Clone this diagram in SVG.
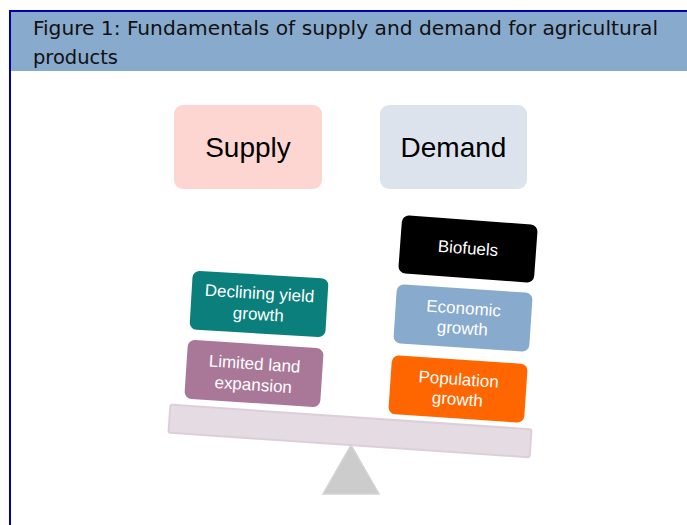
<svg xmlns="http://www.w3.org/2000/svg" width="687" height="525" viewBox="0 0 687 525">
  <style>
    .title { font-family: "DejaVu Sans Condensed", "DejaVu Sans", Verdana, sans-serif; font-size: 20px; fill: #111111; }
    .head { font-family: "Liberation Sans", Arial, sans-serif; font-size: 28px; fill: #000000; text-anchor: middle; }
    .lbl { font-family: "Liberation Sans", Arial, sans-serif; font-size: 17px; fill: #ffffff; text-anchor: middle; }
    .card { stroke: none; }
  </style>

  <!-- page frame and caption band -->
  <rect x="0" y="0" width="687" height="525" fill="#ffffff"/>
  <rect x="11" y="12" width="676" height="59" fill="#88aacd"/>
  <line x1="9" y1="11" x2="687" y2="11" stroke="#0000a8" stroke-width="2"/>
  <line x1="10" y1="10" x2="10" y2="525" stroke="#0000a8" stroke-width="2"/>
  <text class="title" x="33" y="35" textLength="625" lengthAdjust="spacingAndGlyphs">Figure 1: Fundamentals of supply and demand for agricultural</text>
  <text class="title" x="33" y="64" textLength="85" lengthAdjust="spacingAndGlyphs">products</text>

  <!-- column headings -->
  <g id="supply">
    <rect x="174" y="105" width="148" height="84" rx="9" fill="#fdd6d1"/>
    <text class="head" x="248" y="157">Supply</text>
  </g>
  <g id="demand">
    <rect x="380" y="105" width="147" height="84" rx="9" fill="#dde3ed"/>
    <text class="head" x="453.5" y="157">Demand</text>
  </g>

  <!-- seesaw: fulcrum and tilted beam -->
  <g id="fulcrum">
    <polygon points="351,445 323,494 379,494" fill="#cccccc" stroke="#d4d4d4" stroke-width="1.5"/>
  </g>
  <g id="beam" transform="translate(350,431) rotate(3.9)">
    <rect x="-181" y="-14" width="362" height="28" rx="2" fill="#e5dbe3" stroke="#dccfda" stroke-width="2"/>
  </g>

  <!-- supply factors -->
  <g id="declining-yield" transform="translate(259,304) rotate(3.4)">
    <rect class="card" x="-68" y="-29.5" width="136" height="59" rx="7" fill="#0b7f7b"/>
    <text class="lbl" x="0" y="-5">Declining yield</text>
    <text class="lbl" x="0" y="16">growth</text>
  </g>
  <g id="limited-land" transform="translate(254,373.5) rotate(3.8)">
    <rect class="card" x="-68" y="-29.5" width="136" height="59" rx="7" fill="#a97898"/>
    <text class="lbl" x="0" y="-4">Limited land</text>
    <text class="lbl" x="0" y="17">expansion</text>
  </g>

  <!-- demand factors -->
  <g id="biofuels" transform="translate(468,249) rotate(4.2)">
    <rect class="card" x="-68" y="-29" width="136" height="58" rx="7" fill="#000000"/>
    <text class="lbl" x="0" y="5">Biofuels</text>
  </g>
  <g id="economic-growth" transform="translate(463,318) rotate(3.8)">
    <rect class="card" x="-68" y="-29.5" width="136" height="59" rx="7" fill="#88aacd"/>
    <text class="lbl" x="0" y="-4">Economic</text>
    <text class="lbl" x="0" y="16">growth</text>
  </g>
  <g id="population-growth" transform="translate(458,389) rotate(3.9)">
    <rect class="card" x="-68" y="-29.5" width="136" height="59" rx="7" fill="#ff6600"/>
    <text class="lbl" x="0" y="-4">Population</text>
    <text class="lbl" x="0" y="16">growth</text>
  </g>

  <g id="connectors"/>
</svg>
